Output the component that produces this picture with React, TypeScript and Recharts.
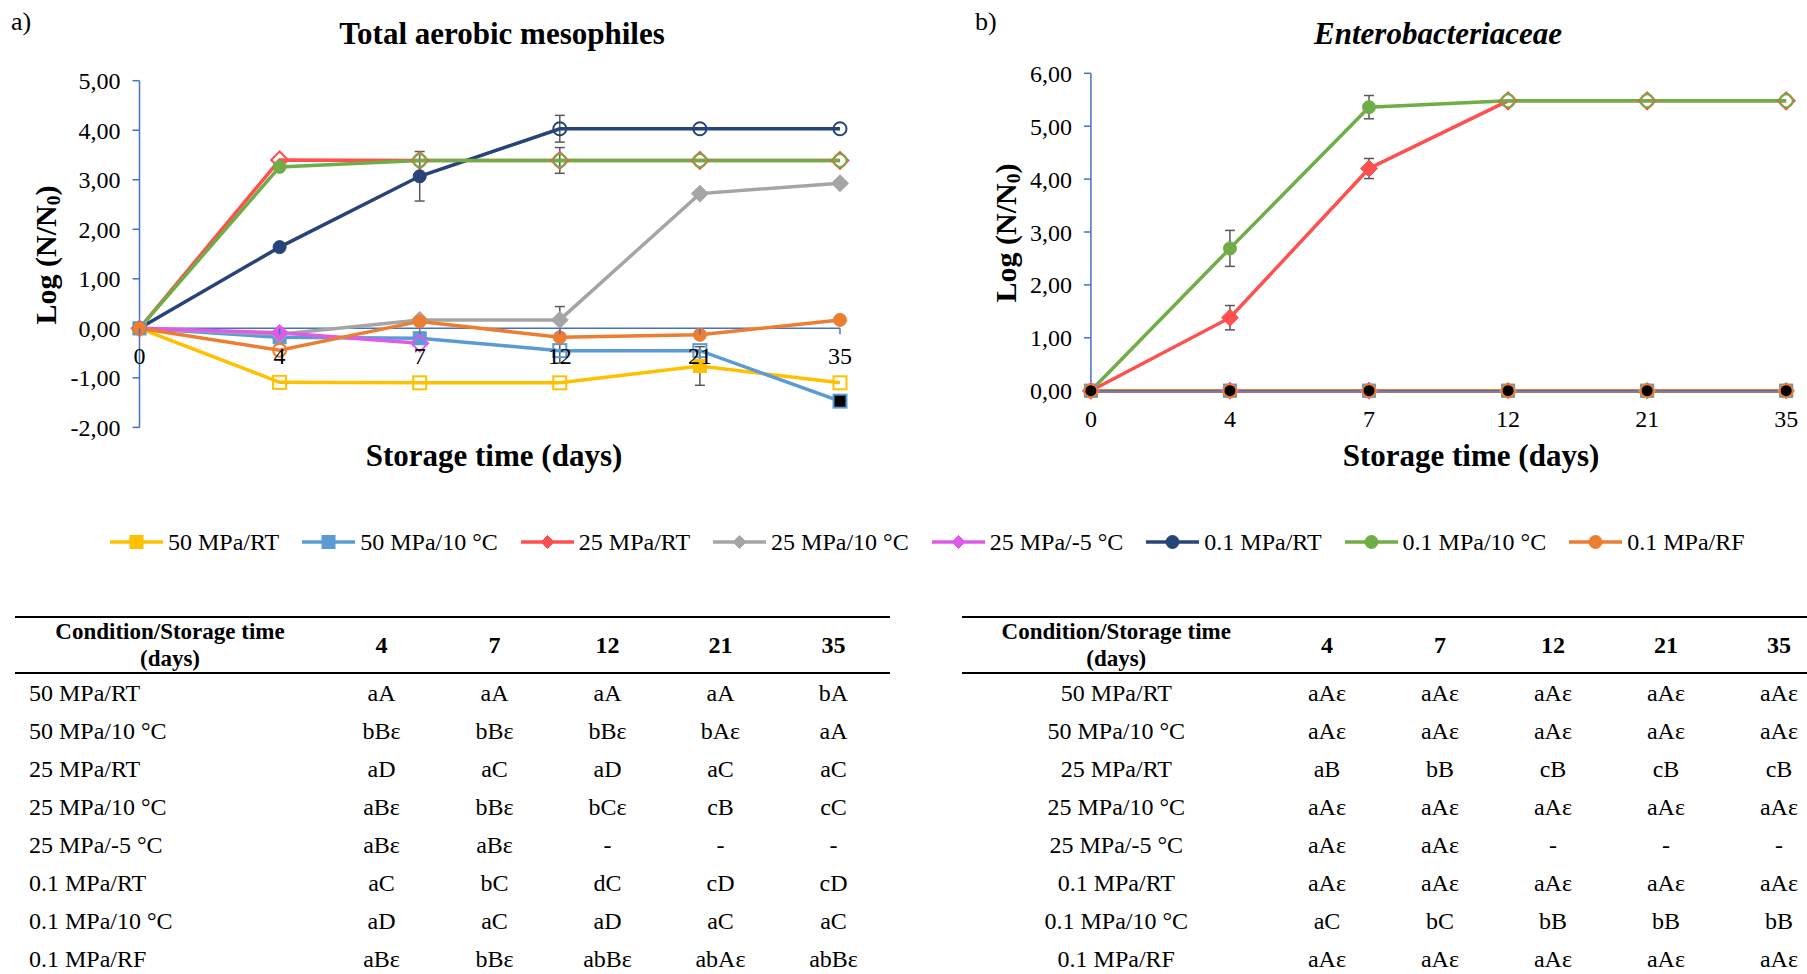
import { LineChart, Line, XAxis, YAxis, CartesianGrid, ErrorBar } from 'recharts'

const FONT = '"Liberation Serif", "Times New Roman", serif'
const AXIS = '#4472C4'
const ERR = '#595959'

// storage days (categories)
const days = ['0', '4', '7', '12', '21', '35']

const seriesNames = ['50 MPa/RT', '50 MPa/10 °C', '25 MPa/RT', '25 MPa/10 °C', '25 MPa/-5 °C', '0.1 MPa/RT', '0.1 MPa/10 °C', '0.1 MPa/RF']
const seriesColors = ['#FFC000', '#5B9BD5', '#FF5050', '#A5A5A5', '#E05AE8', '#264478', '#70AD47', '#ED7D31']
const seriesShapes: Shape[] = ['square', 'square', 'diamond', 'diamond', 'diamond', 'circle', 'circle', 'circle']

// a) total aerobic mesophiles, log(N/N0)
const meso50RT = [0, -1.09, -1.1, -1.1, -0.76, -1.1]
const meso50C10 = [0, -0.18, -0.2, -0.45, -0.45, -1.47]
const meso25RT = [0, 3.4, 3.39, 3.39, 3.39, 3.39]
const meso25C10 = [0, -0.12, 0.17, 0.17, 2.72, 2.93]
const meso25Cm5 = [0, -0.09, -0.3, null, null, null]
const meso01RT = [0, 1.64, 3.07, 4.03, 4.03, 4.03]
const meso01C10 = [0, 3.26, 3.39, 3.39, 3.39, 3.39]
const meso01RF = [0, -0.44, 0.14, -0.18, -0.13, 0.17]

// a) standard deviations (null = no bar)
const mesoErr50RT = [null, null, null, null, 0.39, null]
const mesoErr50C10 = [null, null, null, 0.25, null, null]
const mesoErr25C10 = [null, null, null, 0.27, null, null]
const mesoErr01RT = [null, null, 0.5, 0.27, null, null]
const mesoErr01C10 = [null, null, null, 0.26, null, null]

// b) Enterobacteriaceae, log(N/N0)
const entero50RT = [0, 0, 0, 0, 0, 0]
const entero50C10 = [0, 0, 0, 0, 0, 0]
const entero25RT = [0, 1.38, 4.2, 5.48, 5.48, 5.48]
const entero25C10 = [0, 0, 0, 0, 0, 0]
const entero25Cm5 = [0, 0, 0, null, null, null]
const entero01RT = [0, 0, 0, 0, 0, 0]
const entero01C10 = [0, 2.69, 5.36, 5.48, 5.48, 5.48]
const entero01RF = [0, 0, 0, 0, 0, 0]

const enteroErr25RT = [null, 0.23, 0.19, null, null, null]
const enteroErr01C10 = [null, 0.34, 0.22, null, null, null]

// marker fill per point: f = filled, o = open, k = black
const mesoMarks = ['fooofo', 'fffook', 'fooooo', 'ffffff', 'ffoooo', 'fffooo', 'ffoooo', 'foffff']
const enteroMarks = ['ffffff', 'ffffff', 'fffooo', 'ffffff', 'ffffff', 'ffffff', 'fffooo', 'kkkkkk']

const yTicksA = [-2, -1, 0, 1, 2, 3, 4, 5]
const yTicksB = [0, 1, 2, 3, 4, 5, 6]

// letters of the statistics tables
const tableRows = seriesNames
const mesoLetters = [
  ['aA', 'aA', 'aA', 'aA', 'bA'],
  ['bBε', 'bBε', 'bBε', 'bAε', 'aA'],
  ['aD', 'aC', 'aD', 'aC', 'aC'],
  ['aBε', 'bBε', 'bCε', 'cB', 'cC'],
  ['aBε', 'aBε', '-', '-', '-'],
  ['aC', 'bC', 'dC', 'cD', 'cD'],
  ['aD', 'aC', 'aD', 'aC', 'aC'],
  ['aBε', 'bBε', 'abBε', 'abAε', 'abBε'],
]
const enteroLetters = [
  ['aAε', 'aAε', 'aAε', 'aAε', 'aAε'],
  ['aAε', 'aAε', 'aAε', 'aAε', 'aAε'],
  ['aB', 'bB', 'cB', 'cB', 'cB'],
  ['aAε', 'aAε', 'aAε', 'aAε', 'aAε'],
  ['aAε', 'aAε', '-', '-', '-'],
  ['aAε', 'aAε', 'aAε', 'aAε', 'aAε'],
  ['aC', 'bC', 'bB', 'bB', 'bB'],
  ['aAε', 'aAε', 'aAε', 'aAε', 'aAε'],
]

type Shape = 'square' | 'diamond' | 'circle'

const mesoSeries = [meso50RT, meso50C10, meso25RT, meso25C10, meso25Cm5, meso01RT, meso01C10, meso01RF]
const mesoErrs = [mesoErr50RT, mesoErr50C10, null, mesoErr25C10, null, mesoErr01RT, mesoErr01C10, null]
const enteroSeries = [entero50RT, entero50C10, entero25RT, entero25C10, entero25Cm5, entero01RT, entero01C10, entero01RF]
const enteroErrs = [null, null, enteroErr25RT, null, null, null, enteroErr01C10, null]

const buildRows = (series: (number | null)[][], errs: ((number | null)[] | null)[]) =>
  days.map((d, i) => {
    const row: Record<string, any> = { day: d }
    series.forEach((s, k) => {
      row['s' + k] = s[i]
      row['e' + k] = errs[k] ? errs[k]![i] : null
    })
    return row
  })

const dataA = buildRows(mesoSeries, mesoErrs)
const dataB = buildRows(enteroSeries, enteroErrs)

function Marker({ shape, cx, cy, fill, stroke, size, sw }: any) {
  if (shape === 'square')
    return <rect x={cx - size} y={cy - size} width={size * 2} height={size * 2} fill={fill} stroke={stroke} strokeWidth={sw} />
  if (shape === 'diamond') {
    const d = size * 1.3
    return <polygon points={`${cx},${cy - d} ${cx + d},${cy} ${cx},${cy + d} ${cx - d},${cy}`} fill={fill} stroke={stroke} strokeWidth={sw} />
  }
  return <circle cx={cx} cy={cy} r={size} fill={fill} stroke={stroke} strokeWidth={sw} />
}

const dotRenderer = (shape: Shape, color: string, marks: string) => (p: any) => {
  const { cx, cy, index, value } = p
  if (value == null || cx == null || cy == null) return <g key={`n${index}`} />
  const m = marks[index] || 'f'
  const fill = m === 'o' ? 'none' : m === 'k' ? '#000' : color
  return <Marker key={`m${index}`} shape={shape} cx={cx} cy={cy} fill={fill} stroke={color} size={6.5} sw={m === 'f' ? 1 : 2} />
}

const fmt = (v: number) => v.toFixed(2).replace('.', ',')
const tickStyle = { fontSize: 24, fill: '#000', fontFamily: FONT }

// plot frames (px inside each chart box)
const Y_W = 80
const X_H = 30
const boxA = { w: 900, h: 480, left: 139.5, top: 80.7, right: 840, bottom: 427.4 }
const boxB = { w: 907, h: 480, left: 190.9, top: 73.3, right: 886.2, bottom: 390.7 }

const zeroShiftA = ((boxA.bottom - boxA.top) * (0 - yTicksA[0])) / (yTicksA[yTicksA.length - 1] - yTicksA[0])

function ZeroLineTick(props: any) {
  const { x, y, payload } = props
  const ty = y - zeroShiftA
  return (
    <g>
      <line x1={x} x2={x} y1={ty - 19} y2={ty - 13} stroke={AXIS} strokeWidth={1.5} />
      <text x={x} y={ty} dy="0.71em" textAnchor="middle" {...tickStyle}>{payload.value}</text>
    </g>
  )
}

function Chart({ data, box, marks, ticks, zeroAxis }: any) {
  return (
    <LineChart
      width={box.w}
      height={box.h}
      data={data}
      margin={{ top: box.top, left: box.left - Y_W, right: box.w - box.right, bottom: box.h - box.bottom - X_H }}
    >
      {zeroAxis && <CartesianGrid vertical={false} horizontalValues={[0]} stroke={AXIS} strokeWidth={1.5} />}
      <XAxis
        dataKey="day"
        interval={0}
        height={X_H}
        tickSize={6}
        tickMargin={13}
        axisLine={zeroAxis ? false : { stroke: AXIS, strokeWidth: 1.5 }}
        tickLine={false}
        tick={zeroAxis ? <ZeroLineTick /> : tickStyle}
      />
      <YAxis
        type="number"
        domain={[ticks[0], ticks[ticks.length - 1]]}
        ticks={ticks}
        interval={0}
        width={Y_W}
        tickFormatter={fmt}
        tickSize={7}
        tickMargin={12}
        axisLine={{ stroke: AXIS, strokeWidth: 1.5 }}
        tickLine={{ stroke: AXIS, strokeWidth: 1.5 }}
        tick={tickStyle}
      />
      {seriesNames.map((name, k) => (
        <Line
          key={name}
          name={name}
          type="linear"
          dataKey={'s' + k}
          stroke={seriesColors[k]}
          strokeWidth={3.5}
          dot={dotRenderer(seriesShapes[k], seriesColors[k], marks[k])}
          activeDot={false}
          isAnimationActive={false}
        >
          <ErrorBar dataKey={'e' + k} direction="y" width={5} stroke={ERR} strokeWidth={1.5} />
        </Line>
      ))}
    </LineChart>
  )
}

function Txt({ x, y, size, bold, italic, rotate, align, children }: any) {
  const tx = align === 'left' ? '0' : '-50%'
  return (
    <div
      style={{
        position: 'absolute',
        left: x,
        top: y,
        fontSize: size,
        lineHeight: 1,
        fontWeight: bold ? 'bold' : 'normal',
        fontStyle: italic ? 'italic' : 'normal',
        whiteSpace: 'nowrap',
        transform: `translate(${tx}, -50%)${rotate ? ` rotate(${rotate}deg)` : ''}`,
      }}
    >
      {children}
    </div>
  )
}

const yLabel = (
  <>
    Log (N/N<span style={{ fontSize: '0.65em', verticalAlign: '-0.2em' }}>0</span>)
  </>
)

function LegendRow() {
  return (
    <div style={{ position: 'absolute', left: 110, top: 530, height: 24, display: 'flex', alignItems: 'center', fontSize: 24, whiteSpace: 'nowrap' }}>
      {seriesNames.map((name, k) => (
        <div key={name} style={{ display: 'flex', alignItems: 'center', marginRight: 23 }}>
          <svg width={53} height={20} style={{ marginRight: 5 }}>
            <line x1={0} x2={53} y1={10} y2={10} stroke={seriesColors[k]} strokeWidth={3.5} />
            <Marker shape={seriesShapes[k]} cx={26.5} cy={10} fill={seriesColors[k]} stroke={seriesColors[k]} size={seriesShapes[k] === 'diamond' ? 5 : 6.5} sw={1} />
          </svg>
          <span style={{ lineHeight: '24px' }}>{name}</span>
        </div>
      ))}
    </div>
  )
}

function StatTable({ left, firstW, centered, letters }: any) {
  const colW = 113
  return (
    <div style={{ position: 'absolute', left, top: 616, width: firstW + colW * 5, fontSize: 24 }}>
      <div style={{ display: 'flex', height: 54, borderTop: '2px solid #000', borderBottom: '2px solid #000', fontWeight: 'bold' }}>
        <div style={{ width: firstW, textAlign: 'center', lineHeight: '27px', marginTop: 0, fontSize: 23 }}>
          Condition/Storage time<br />(days)
        </div>
        {days.slice(1).map((d) => (
          <div key={d} style={{ width: colW, textAlign: 'center', lineHeight: '54px' }}>{d}</div>
        ))}
      </div>
      {tableRows.map((r, i) => (
        <div key={r} style={{ display: 'flex', height: 38, lineHeight: '38px' }}>
          <div style={{ width: firstW, textAlign: centered ? 'center' : 'left', paddingLeft: centered ? 0 : 14, boxSizing: 'border-box' }}>{r}</div>
          {letters[i].map((t: string, j: number) => (
            <div key={j} style={{ width: colW, textAlign: 'center' }}>{t}</div>
          ))}
        </div>
      ))}
    </div>
  )
}

export default function App() {
  return (
    <div style={{ position: 'absolute', left: 0, top: 0, width: 1807, height: 974, overflow: 'hidden', background: '#fff', fontFamily: FONT, color: '#000' }}>
      <div style={{ position: 'absolute', left: 0, top: 0 }}>
        <Chart data={dataA} box={boxA} marks={mesoMarks} ticks={yTicksA} zeroAxis />
      </div>
      <div style={{ position: 'absolute', left: 900, top: 0 }}>
        <Chart data={dataB} box={boxB} marks={enteroMarks} ticks={yTicksB} zeroAxis={false} />
      </div>

      <Txt x={11} y={22} size={26} align="left">a)</Txt>
      <Txt x={975} y={22} size={26} align="left">b)</Txt>
      <Txt x={502} y={33} size={31} bold>Total aerobic mesophiles</Txt>
      <Txt x={1438} y={33} size={31} bold italic>Enterobacteriaceae</Txt>
      <Txt x={494} y={455} size={31} bold>Storage time (days)</Txt>
      <Txt x={1471} y={455} size={31} bold>Storage time (days)</Txt>
      <Txt x={47} y={255} size={30} bold rotate={-90}>{yLabel}</Txt>
      <Txt x={1007} y={233} size={30} bold rotate={-90}>{yLabel}</Txt>

      <LegendRow />

      <StatTable left={15} firstW={310} centered={false} letters={mesoLetters} />
      <StatTable left={962} firstW={308.5} centered letters={enteroLetters} />
    </div>
  )
}
